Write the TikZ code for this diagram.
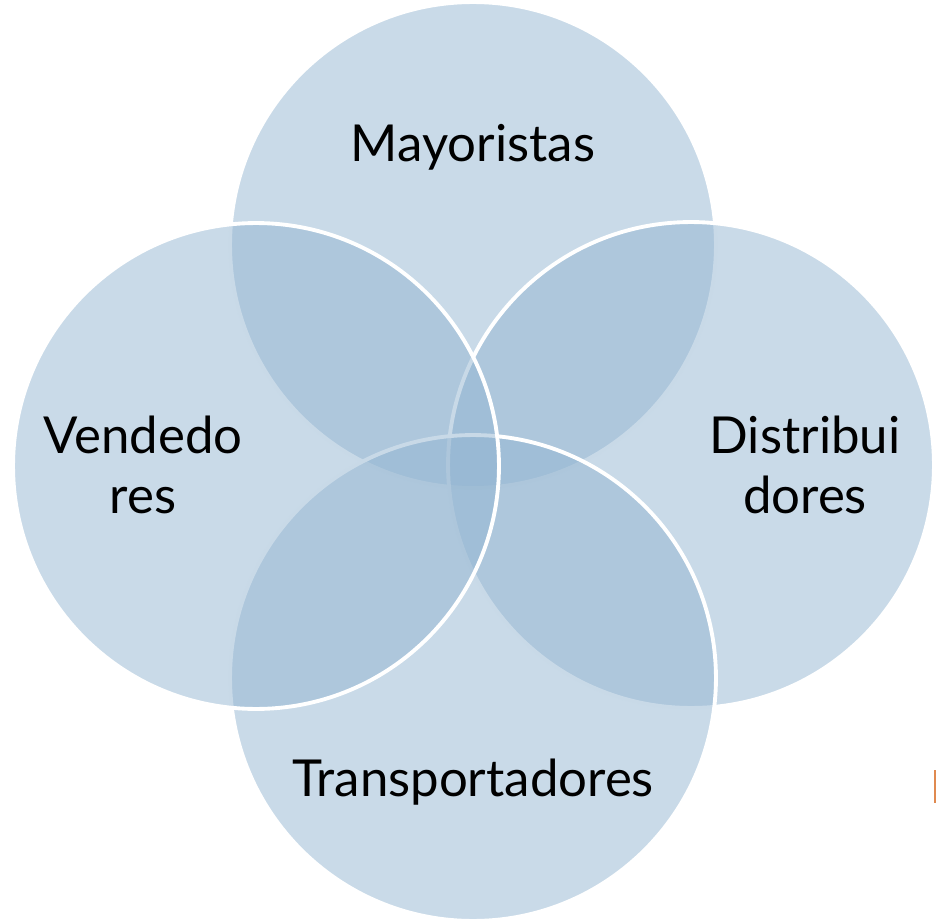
\documentclass[tikz,border=0pt]{standalone}
\usepackage{fontspec}
\setmainfont{Lato}
\usetikzlibrary{positioning}
\definecolor{ringblue}{HTML}{93B5D1}
\definecolor{markorange}{HTML}{E08A50}

\begin{document}
\begin{tikzpicture}[x=0.02cm,y=-0.02cm,font=\fontsize{29}{34}\selectfont,ring/.style={circle,minimum size=9.72cm,inner sep=0pt,fill=ringblue,fill opacity=.5,draw=white,line width=2.2pt},tag/.style={align=center,text=black,inner sep=0pt}]
\useasboundingbox (0,0) rectangle (936,922);
\node[ring] (top) at (473,245) {};
\node[ring] (right) at (691,465) {};
\node[ring] (bottom) at (473,678) {};
\node[ring] (left) at (256,466) {};
\node[tag] (topname) at (473,147) {Mayoristas};
\node[tag] (rightname) at (805,465) {Distribui\\dores};
\node[tag] (bottomname) at (473,782) {Transportadores};
\node[tag] (leftname) at (143,465) {Vendedo\\res};
\coordinate (markA) at (935,770);
\coordinate (markB) at (935,803);
\draw[markorange,line width=.6pt] (markA) -- (markB);
\end{tikzpicture}
\end{document}
